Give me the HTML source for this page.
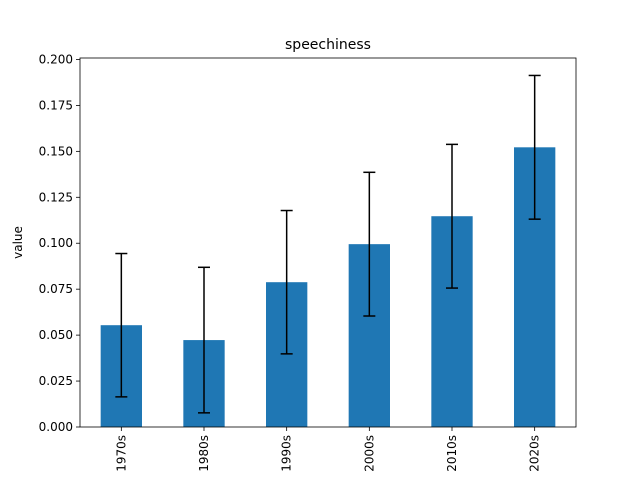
<!DOCTYPE html>
<html><head><meta charset="utf-8"><style>body{margin:0;background:#fff}svg{display:block;font-family:"DejaVu Sans","Liberation Sans",sans-serif}</style></head>
<body>
<svg id="chart" width="640" height="480"></svg>
<script>
const categories = ["1970s","1980s","1990s","2000s","2010s","2020s"];
const values = [0.0554, 0.0473, 0.0788, 0.0995, 0.1147, 0.1522];
const errors = [0.0390, 0.0396, 0.0390, 0.0391, 0.0391, 0.0391];
const yTicks = [0, 0.025, 0.05, 0.075, 0.1, 0.125, 0.15, 0.175, 0.2];
const yTickLabels = ["0.000","0.025","0.050","0.075","0.100","0.125","0.150","0.175","0.200"];

const NS = "http://www.w3.org/2000/svg";
const svg = document.getElementById("chart");
const L=80, R=576, T=58, B=427;
const yMax = 0.2008;
const y = v => B - v/yMax*(B-T);
const step = (R-L)/categories.length;
const x = i => L + step*(i+0.5);
function el(tag, attrs, parent){const e=document.createElementNS(NS,tag);for(const k in attrs)e.setAttribute(k,attrs[k]);(parent||svg).appendChild(e);return e;}

categories.forEach((c,i)=>{
  const b=el("rect",{x:x(i)-step/4,y:y(values[i]),width:step/2,height:B-y(values[i]),fill:"#1f77b4"});
  
  
  const g=el("g",{stroke:"#000","stroke-width":1.5});
  
  
  const hi=y(values[i]+errors[i]), lo=y(values[i]-errors[i]);
  el("line",{x1:x(i),x2:x(i),y1:hi,y2:lo},g);
  el("line",{x1:x(i)-6,x2:x(i)+6,y1:hi,y2:hi},g);
  el("line",{x1:x(i)-6,x2:x(i)+6,y1:lo,y2:lo},g);
  el("line",{x1:x(i),x2:x(i),y1:B,y2:B+4,stroke:"#000","stroke-width":0.8});
  const t=el("text",{x:0,y:0,"font-size":12,"text-anchor":"end",transform:`translate(${x(i)+4},${B+8}) rotate(-90)`});
  t.textContent=c;
  
  
});
yTicks.forEach((v,i)=>{
  el("line",{x1:L-4,x2:L,y1:y(v),y2:y(v),stroke:"#000","stroke-width":0.8});
  const t=el("text",{x:L-7,y:y(v)+4,"font-size":12,"text-anchor":"end"});
  t.textContent=yTickLabels[i];
  
  
});
const f=el("rect",{x:L,y:T,width:R-L,height:B-T,fill:"none",stroke:"#000","stroke-width":0.8});


const title=el("text",{x:(L+R)/2,y:T-9,"font-size":14,"text-anchor":"middle"});
title.textContent="speechiness";


const yl=el("text",{x:0,y:0,"font-size":12,"text-anchor":"middle",transform:`translate(22,${(T+B)/2}) rotate(-90)`});
yl.textContent="value";


</script>
</body></html>
